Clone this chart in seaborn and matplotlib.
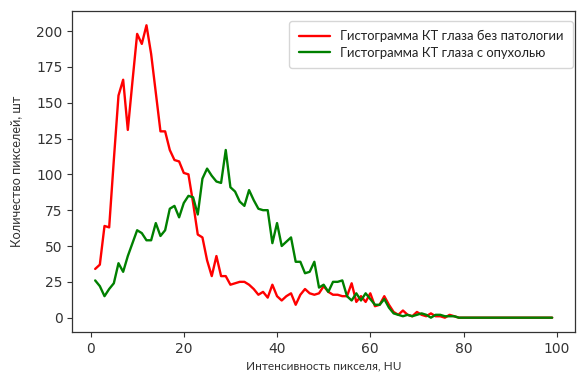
import numpy as np
import pandas as pd
import matplotlib
matplotlib.use("Agg")
import matplotlib.pyplot as plt
import seaborn as sns

# Intensity (HU) values
intensity = list(range(1, 100))

# Histogram: eye CT without pathology (red)
normal_counts = [34, 37, 64, 63, 110, 155, 166, 131, 165, 198,
                 191, 204, 184, 157, 130, 130, 117, 110, 109, 101,
                 100, 80, 58, 56, 40, 29, 43, 29, 29, 23,
                 24, 25, 25, 23, 20, 16, 18, 14, 23, 15,
                 12, 15, 17, 9, 16, 20, 17, 16, 17, 22,
                 18, 16, 16, 15, 15, 24, 11, 15, 11, 17,
                 8, 9, 15, 9, 4, 2, 5, 2, 1, 4,
                 2, 1, 3, 1, 1, 0, 2, 1] + [0] * 21

# Histogram: eye CT with tumour (green)
tumor_counts = [26, 22, 15, 20, 24, 38, 32, 43, 52, 61,
                59, 54, 54, 66, 57, 61, 76, 78, 70, 80,
                85, 84, 72, 97, 104, 99, 95, 94, 117, 91,
                88, 81, 78, 89, 82, 76, 75, 75, 52, 66,
                50, 53, 56, 39, 39, 31, 32, 39, 21, 23,
                18, 25, 25, 26, 15, 12, 17, 12, 17, 13,
                9, 9, 13, 7, 3, 2, 1, 2, 1, 2,
                3, 2, 0, 2, 2, 1, 1, 1] + [0] * 21

labels = ["Гистограмма КТ глаза без патологии", "Гистограмма КТ глаза с опухолью"]
colors = ["red", "green"]
x_ticks = [0, 20, 40, 60, 80, 100]
y_ticks = [0, 25, 50, 75, 100, 125, 150, 175, 200]
x_label = "Интенсивность пикселя, HU"
y_label = "Количество пикселей, шт"

sns.set_style("ticks")
plt.rcParams["font.family"] = ["DejaVu Sans"]

df = pd.DataFrame({
    "x": intensity * 2,
    "y": normal_counts + tumor_counts,
    "series": [labels[0]] * len(intensity) + [labels[1]] * len(intensity),
})

fig = plt.figure(figsize=(5.8, 3.74), dpi=100)
ax = fig.add_axes([0.1247, 0.1115, 0.8667, 0.86])

sns.lineplot(data=df, x="x", y="y", hue="series", palette=colors,
             hue_order=labels, linewidth=1.7, ax=ax, legend=True)

for s in ["top", "right", "left", "bottom"]:
    ax.spines[s].set_visible(True)
    ax.spines[s].set_color("#333333")
    ax.spines[s].set_linewidth(0.9)

ax.set_xticks(x_ticks)
ax.set_yticks(y_ticks)
ax.tick_params(axis="both", labelsize=10, colors="#333333", length=3.5, width=0.8)
ax.set_xlabel(x_label, fontsize=8.6, family=["Lato", "DejaVu Sans"], color="#333333", labelpad=3)
ax.set_ylabel(y_label, fontsize=9.2, family=["Lato", "DejaVu Sans"], color="#333333", labelpad=10)

leg = ax.legend(loc="upper right", bbox_to_anchor=(0.996, 0.968), borderaxespad=0,
                prop={"family": ["Lato", "DejaVu Sans"], "size": 9.4},
                handlelength=2.4, frameon=True, borderpad=0.7, labelspacing=0.35)
leg.get_frame().set_edgecolor("#cccccc")
for t in leg.get_texts():
    t.set_color("#222222")

fig.savefig("out.png", dpi=100)
